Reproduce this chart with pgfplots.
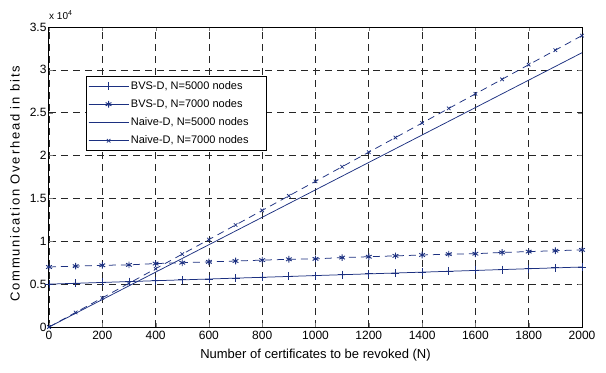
\documentclass[border=0pt]{standalone}
\usepackage{pgfplots}
\pgfplotsset{compat=1.18}
\usepackage{fontspec}
\setmainfont{Liberation Sans}
\definecolor{navy}{RGB}{28,48,128}
\begin{document}
\begin{tikzpicture}
\begin{axis}[
  scale only axis,
  width=533pt, height=300pt,
  xmin=0, xmax=2000, ymin=0, ymax=35000,
  xtick={0,200,...,2000},
  ytick={0,5000,...,35000},
  scaled y ticks=false,
  yticklabels={0,0.5,1,1.5,2,2.5,3,3.5},
  /pgf/number format/assume math mode=true,
  /pgf/number format/set thousands separator={},
  ticklabel style={font=\fontsize{12}{13}\selectfont},
  xticklabel style={yshift=-1pt},
  yticklabel style={xshift=1pt},
  tick align=inside,
  major tick length=4pt,
  grid=major,
  major grid style={black!85, dash pattern=on 7pt off 5pt, line width=0.7pt},
  axis line style={black, line width=1pt},
  xlabel={Number of certificates to be revoked (N)},
  ylabel={\addfontfeature{LetterSpace=14}Communication Overhead in bits},
  label style={font=\fontsize{13}{14}\selectfont},
  xlabel style={at={(axis description cs:0.5,-0.093)}, anchor=center},
  ylabel style={at={(axis description cs:-0.064,0.477)}, anchor=center},
  legend style={at={(0.069,0.837)},anchor=north west, draw=black, fill=white,
    line width=0.8pt,
    font=\fontsize{11}{12}\selectfont, inner xsep=2pt, inner ysep=0.5pt,
    nodes={inner xsep=2pt, inner ysep=4.4pt},
    legend cell align=left},
  legend image code/.code={\draw[#1] (0pt,0pt) -- (40pt,0pt); \draw[#1,solid,mark repeat=2,mark phase=2] plot coordinates {(0pt,0pt) (20pt,0pt) (40pt,0pt)};},
  clip=false,
]
\addplot[navy, line width=0.75pt, mark=+, mark size=4pt, mark options={solid}] coordinates {
(0,5000)(100,5100)(200,5200)(300,5300)(400,5400)(500,5500)(600,5600)(700,5700)(800,5800)(900,5900)(1000,6000)(1100,6100)(1200,6200)(1300,6300)(1400,6400)(1500,6500)(1600,6600)(1700,6700)(1800,6800)(1900,6900)(2000,7000)};
\addlegendentry{BVS-D, N=5000 nodes\rule{14pt}{0pt}}
\addplot[navy, line width=0.75pt, dash pattern=on 7pt off 5pt, mark=asterisk, mark size=3.3pt, mark options={solid, line width=0.9pt}] coordinates {
(0,7000)(100,7100)(200,7200)(300,7250)(400,7400)(500,7500)(600,7600)(700,7700)(800,7800)(900,7900)(1000,7950)(1100,8100)(1200,8200)(1300,8300)(1400,8400)(1500,8500)(1600,8550)(1700,8700)(1800,8800)(1900,8900)(2000,9000)};
\addlegendentry{BVS-D, N=7000 nodes}
\addplot[navy, line width=0.75pt] coordinates {(0,0)(2000,32000)};
\addlegendentry{Naive-D, N=5000 nodes}
\addplot[navy, line width=0.75pt, dash pattern=on 7pt off 5pt, mark=x, mark size=2.5pt, mark options={solid}] coordinates {
(0,0)(100,1700)(200,3400)(300,5100)(400,6800)(500,8500)(600,10200)(700,11900)(800,13600)(900,15300)(1000,17000)(1100,18700)(1200,20400)(1300,22100)(1400,23800)(1500,25500)(1600,27200)(1700,28900)(1800,30600)(1900,32300)(2000,34000)};
\addlegendentry{Naive-D, N=7000 nodes\rule{14pt}{0pt}}
\node[anchor=south west, font=\fontsize{10}{11}\selectfont, inner sep=0pt, yshift=7pt] at (rel axis cs:0,1) {x 10\raisebox{0.75ex}{\fontsize{7}{7}\selectfont 4}};
\coordinate (bl) at (rel axis cs:0,0);
\coordinate (tr) at (rel axis cs:1,1);
\end{axis}
\pgfresetboundingbox
\path[use as bounding box] ([shift={(-49pt,-45pt)}]bl) rectangle ([shift={(24pt,27pt)}]tr);
\end{tikzpicture}
\end{document}
